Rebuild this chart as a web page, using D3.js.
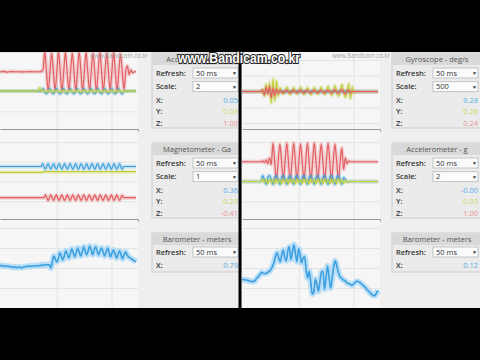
<!DOCTYPE html>
<html>
<head>
<meta charset="utf-8">
<script src="https://cdn.jsdelivr.net/npm/d3@7/dist/d3.min.js"></script>
<style>
html, body { margin: 0; padding: 0; background: #000; }
svg { display: block; font-family: "Open Sans", "Noto Sans", sans-serif; }
</style>
</head>
<body>
<script>
// sensor samples (oldest -> newest)
var accLeftX = [0.02,0.02,0.02,0.02,0.02,0.02,0.02,0.02,0.02,0.02,0.02,0.02,0.02,0.02,0.02,0.02,0.02,0.02,0.02,0.02,0.02,0.02,0.02,0.02,0.02,
	0.15,-0.05,-0.12,0.02, 0.15,-0.05,-0.12,0.02, 0.15,-0.05,-0.12,0.02, 0.15,-0.05,-0.12,0.02,
	0.15,-0.05,-0.12,0.02, 0.15,-0.05,-0.12,0.02, 0.15,-0.05,-0.12,0.02, 0.15,-0.05,-0.12,0.02,
	0.15,-0.05,-0.12,0.02, 0.15,-0.05,-0.12,0.02, 0.15,-0.05,-0.12,0.02, 0.15,-0.05,-0.12,0.02, 0.02,
	0.02,0.02,0.02,0.02,0.02,0.02];
var accLeftY = [0.02,0.02,0.02,0.02,0.02,0.02,0.02,0.02,0.02,0.02,0.02,0.02,0.02,0.02,0.02,0.02,0.02,0.02,0.02,0.02,0.02,0.02,0.02,
	0.2,0.02,
	0.06,0.02,-0.04,0.02, 0.06,0.02,-0.04,0.02, 0.06,0.02,-0.04,0.02, 0.06,0.02,-0.04,0.02,
	0.06,0.02,-0.04,0.02, 0.06,0.02,-0.04,0.02, 0.06,0.02,-0.04,0.02, 0.06,0.02,-0.04,0.02,
	0.06,0.02,-0.04,0.02, 0.06,0.02,-0.04,0.02, 0.06,0.02,-0.04,0.02, 0.06,0.02,-0.04,0.02, 0.02,
	0.02,0.02,0.02,0.02,0.02,0.02];
var accLeftZ = [1,1,1.02,1,0.98,1,1,1.01,1,1,1,1,1,0.99,1,1,1,1,1.01,1,1,1,1,1,1.02,
	1.1,
	2,1,0,1, 1.95,1,0.05,1, 2,1,0,1, 2,1,0.05,1, 1.95,1,0,1, 2,1,0,1,
	2,1,0.05,1, 1.95,1,0,1, 2,1,0,1, 1.95,1,0.05,1, 2,1,0,1,
	1.9,1,0.1,1,
	1.3,0.85,1.1,0.95,1,1];

var gyroX = [0,0,0,0,0,0,0,0,0,0,0,0,
	10,-15,5,-10, 10,-15,5,-10, 10,-15,5,-10, 10,-15,5,-10, 10,-15,5,-10, 10,-15,5,-10, 10,-15,5,-10,
	10,-15,5,-10, 10,-15,5,-10, 10,-15,5,-10, 10,-15,5,-10, 10,-15,5,-10, 10,-15,5,-10,
	0,0,0,0,0,0,0,0,0,0,0,0,0,0,0,0];
var gyroY = [0,0,0,0,0,0,0,0,0,0,5,-10,
	30,-60,90,-40,110,
	-150,160,-120,140,-60,
	50,5,-35,0, 55,10,-40,5, 50,0,-35,0, 55,10,-40,5, 50,5,-45,0,
	50,10,-35,0, 55,0,-40,5, 65,10,-50,0, 75,5,-60,0, 90,10,-75,0,
	100,-90,60,-20,
	0,5,0,-5,0,0,0,0,0,0,0,0,0,0];
var gyroZ = [0,0,0,0,0,0,0,0,0,0,0,0,
	20,-40,50,-30,60,-70,40,-50,30,-20,
	15,-8,-15,5, 15,-8,-15,5, 15,-8,-15,5, 15,-8,-15,5, 15,-8,-15,5,
	15,-8,-15,5, 15,-8,-15,5, 15,-8,-15,5, 20,-10,-20,5, 25,-10,-25,5, 20,-15,
	0,0,0,0,0,0,0,0,0,0,0,0,0,0,0,0];

var magX = [0.38,0.38,0.38,0.38,0.38,0.38,0.38,0.38,0.38,0.38,0.38,0.38,0.38,0.38,0.38,0.38,
	0.38,0.38,0.38,0.38,0.38,0.38,0.38,0.38,0.38,0.38,0.38,0.38,0.38,0.38,0.38,
	0.45,0.38,0.31,0.38, 0.45,0.38,0.31,0.38, 0.45,0.38,0.31,0.38, 0.45,0.38,0.31,0.38, 0.45,0.38,0.31,0.38,
	0.45,0.38,0.31,0.38, 0.45,0.38,0.31,0.38, 0.45,0.38,0.31,0.38, 0.45,0.38,0.31,0.38, 0.45,0.38,0.31,0.38,
	0.45,0.38,0.31,0.38, 0.45,0.38,0.31,0.38, 0.45,0.38,0.31,0.38, 0.45,0.38,0.31,0.38, 0.45,0.38,0.31,0.38,
	0.38,0.38,0.38,0.38,0.38,0.38,0.38,0.38,0.38];
var magY = [0.23,0.23,0.23,0.23,0.23,0.23,0.23,0.23,0.23,0.23,0.23,0.23,0.23,0.23,0.23,0.23,
	0.23,0.23,0.23,0.23,0.23,0.23,0.23,0.23,0.23,0.23,0.23,0.23,0.23,0.23,0.23,
	0.24,0.25,0.25,0.25,
	0.25,0.25,0.25,0.25,0.25,0.25,0.25,0.25,0.25,0.25,0.25,0.25,0.25,0.25,0.25,0.25,0.25,0.25,0.25,0.25,
	0.25,0.25,0.25,0.25,0.25,0.25,0.25,0.25,0.25,0.25,0.25,0.25,0.25,0.25,0.25,0.25,0.25,0.25,0.25,0.25,
	0.25,0.25,0.25,0.25,0.25,0.25,0.25,0.25,0.25,0.25,0.25,0.25,0.25,0.25,0.25,0.25,0.25,0.25,0.25,0.25,
	0.25,0.25,0.25,0.25,0.25];
var magZ = [-0.41,-0.41,-0.41,-0.41,-0.41,-0.41,-0.41,-0.41,-0.41,-0.41,-0.41,-0.41,-0.41,-0.41,-0.41,-0.41,-0.41,
	-0.41,-0.41,-0.41,-0.41,-0.41,-0.41,-0.41,-0.41,-0.41,-0.41,-0.41,-0.41,-0.41,-0.41,-0.41,-0.41,
	-0.34,-0.41,-0.48,-0.41, -0.34,-0.41,-0.48,-0.41, -0.34,-0.41,-0.48,-0.41, -0.34,-0.41,-0.48,-0.41,
	-0.34,-0.41,-0.48,-0.41, -0.34,-0.41,-0.48,-0.41, -0.34,-0.41,-0.48,-0.41, -0.34,-0.41,-0.48,-0.41,
	-0.34,-0.41,-0.48,-0.41, -0.34,-0.41,-0.48,-0.41, -0.34,-0.41,-0.48,-0.41, -0.34,-0.41,-0.48,-0.41,
	-0.34,-0.41,-0.48,-0.41, -0.34,-0.41,-0.48,-0.41, -0.35,-0.41,
	-0.41,-0.41,-0.41,-0.41,-0.41,-0.41,-0.41,-0.41,-0.41];

var accRightX = [0,0,0,0,0,0,0,0,0,0,0,0,
	0.3,0.1,-0.15,0.2, 0.3,0.1,-0.15,0.2, 0.3,0.1,-0.15,0.2, 0.3,0.1,-0.15,0.2, 0.3,0.1,-0.15,0.2, 0.3,0.1,-0.15,0.2,
	0.3,0.1,-0.15,0.2, 0.3,0.1,-0.15,0.2, 0.3,0.1,-0.15,0.2, 0.3,0.1,-0.15,0.2, 0.3,0.1,-0.15,0.2, 0.3,0.1,-0.15,0.2,
	0.1,0,0,
	0,0,0,0,0,0,0,0,0,0,0,0,0,0,0,0,0];
var accRightY = [0,0,0,0,0,0,0,0,0,0,0,0,
	0.12,-0.05,0.08,-0.1, 0.12,-0.05,0.08,-0.1, 0.12,-0.05,0.08,-0.1, 0.12,-0.05,0.08,-0.1, 0.12,-0.05,0.08,-0.1, 0.12,-0.05,0.08,-0.1,
	0.12,-0.05,0.08,-0.1, 0.12,-0.05,0.08,-0.1, 0.12,-0.05,0.08,-0.1, 0.12,-0.05,0.08,-0.1, 0.12,-0.05,0.08,-0.1, 0.12,-0.05,0.08,-0.1,
	0.05,0,-0.03,
	0,0,0,0,0,0,0,0,0,0,0,0,0,0,0,0,0];
var accRightZ = [1,1,1,1,1,1,1,1,1,1,1,1,
	1.05,0.95,1.1,0.9,1.2,0.85,
	1.95,1,0.05,1, 1.9,1,0.05,1, 1.95,1,0,1, 1.95,1,0.05,1, 1.9,1,0.05,1,
	1.95,1,0,1, 1.95,1,0.05,1, 1.9,1,0.05,1, 1.95,1,0,1, 1.9,1,0.1,1,
	1.7,0.6,1.2,0.9,1.05,
	1,1,1,1,1,1,1,1,1,1,1,1,1,1,1,1,1];

var baroLeft = [0.06,0.06,0.05,0.05,0.04,0.05,0.04,0.03,0.03,0.01,0.03,0.01,0.01,0.03,0.01,0.01,0.03,
	0.03,0.04,0.04,0.05,0.04,0.05,0.05,0.06,0.05,0.06,0.06,0.08,0.06,0.08,0.08,0.08,0.08,
	0, 0.15,
	0.30,0.23,0.15,0.23, 0.38,0.30,0.20,0.30, 0.43,0.35,0.25,0.35, 0.48,0.38,0.28,0.38,
	0.50,0.40,0.30,0.40, 0.53,0.43,0.33,0.43, 0.55,0.45,0.33,0.45, 0.53,0.43,0.33,0.43,
	0.50,0.40,0.30,0.40, 0.50,0.38,0.28,0.38, 0.45,0.35,0.25,0.35, 0.43,0.33,0.23,0.33,
	0.40,0.33,0.28,0.25,0.23,0.20,0.18,0.15];
var baroRight = [-0.28,-0.29,-0.30,-0.30,-0.31,-0.33,-0.33,-0.34,-0.33,-0.29,
	-0.24,-0.20,-0.15,-0.11,-0.13,-0.14,-0.13,-0.10,-0.08,-0.03,
	0.04,0.15,0.30,0.38,0.25,0.16,0.33,0.45,0.25,0.18,
	0.43,0.53,0.21,0.40,0.58,0.35,0.16,0.48,0.33,0.13,
	0.25,0.28,-0.05,-0.25,-0.08,-0.35,-0.65,-0.60,-0.28,-0.40,
	-0.58,-0.35,-0.10,-0.08,-0.53,-0.25,0.05,-0.25,-0.50,-0.25,
	0.03,0.18,0.05,-0.10,-0.21,-0.25,-0.29,-0.31,-0.34,-0.38,
	-0.39,-0.41,-0.43,-0.40,-0.36,-0.33,-0.34,-0.36,-0.39,-0.43,
	-0.46,-0.50,-0.55,-0.58,-0.63,-0.66,-0.69,-0.69,-0.63,-0.56];

// panel texts
var panelTitles = ['Accelerometer - g', 'Magnetometer - Ga', 'Barometer - meters',
	'Gyroscope - deg/s', 'Accelerometer - g', 'Barometer - meters'];
var refreshLabels = ['50 ms', '50 ms', '50 ms', '50 ms', '50 ms', '50 ms'];
var scaleLabels = ['2', '1', null, '500', '2', null];
var readouts = [['0.05', '0.03', '1.00'], ['0.36', '0.23', '-0.41'], ['0.79'],
	['0.28', '0.26', '0.24'], ['-0.00', '0.03', '1.00'], ['0.12']];
var axisNames = ['X:', 'Y:', 'Z:'];
var gridSeconds = [2, 4];
var windowSeconds = [0, 5];

var colors = { x: '#3b9fe0', y: '#c3d13f', z: '#e35d61' };
var readoutColors = ['#55aee8', '#cfd65a', '#e8939a'];

var halves = [{ x0: 0, panelX: 152 }, { x0: 242, panelX: 392 }];
var rowTops = [40, 130, 220];
var plotW = 138, rowH = 90;

var charts = [
	{ half: 0, row: 0, domain: [-2, 2], series: [[accLeftZ, 'z'], [accLeftX, 'x'], [accLeftY, 'y']] },
	{ half: 0, row: 1, domain: [-1, 1], series: [[magZ, 'z'], [magY, 'y'], [magX, 'x']] },
	{ half: 0, row: 2, domain: [-1, 1], baro: true, series: [[baroLeft, 'x']] },
	{ half: 1, row: 0, domain: [-500, 500], series: [[gyroX, 'x'], [gyroY, 'y'], [gyroZ, 'z']] },
	{ half: 1, row: 1, domain: [-2, 2], series: [[accRightZ, 'z'], [accRightX, 'x'], [accRightY, 'y']] },
	{ half: 1, row: 2, domain: [-1, 1], baro: true, series: [[baroRight, 'x']] }
];

var svg = d3.select('body').append('svg').attr('width', 480).attr('height', 360);
svg.append('rect').attr('width', 480).attr('height', 360).attr('fill', '#000');
svg.append('defs').append('clipPath').attr('id', 'view')
	.append('rect').attr('x', 0).attr('y', 52).attr('width', 480).attr('height', 256);

var content = svg.append('g').attr('clip-path', 'url(#view)');
content.append('rect').attr('x', 0).attr('y', 40).attr('width', 480).attr('height', 280).attr('fill', '#efefef');

charts.forEach(function(c, k) {
	var x0 = halves[c.half].x0;
	var px = halves[c.half].panelX;
	var top = rowTops[c.row];
	var g = content.append('g');

	g.append('rect').attr('x', x0).attr('y', top).attr('width', plotW).attr('height', rowH).attr('fill', '#f6f6f6');

	var x = d3.scaleLinear().domain(windowSeconds).range([x0 + 2, x0 + plotW + 1]);
	var y = c.baro
		? d3.scaleLinear().domain(c.domain).range([top + 88, top + 8])
		: d3.scaleLinear().domain(c.domain).range([top + 91, top + 12]);

	// grid
	var gx = g.append('g').attr('transform', `translate(0,${top + rowH})`)
		.call(d3.axisBottom(x).tickValues(gridSeconds).tickSize(-rowH).tickFormat(''));
	var gy = g.append('g').attr('transform', `translate(${x0},0)`)
		.call(d3.axisLeft(y).ticks(4).tickSize(-plotW).tickFormat(''));
	[gx, gy].forEach(function(a) {
		a.select('.domain').remove();
		a.selectAll('line').attr('stroke', '#dddddd').attr('stroke-width', 0.7);
	});

	// series
	c.series.forEach(function(s) {
		var values = s[0], col = colors[s[1]];
		var sx = d3.scaleLinear().domain([0, values.length - 1]).range([x0, x0 + plotW - 2]);
		var line = d3.line().x(function(d, i) { return sx(i); }).y(function(d) { return y(d); })
			.curve(d3.curveMonotoneX);
		g.append('path').datum(values).attr('d', line).attr('fill', 'none')
			.attr('stroke', c.baro ? '#b3dbf6' : col).attr('stroke-opacity', c.baro ? 0.9 : 0.25)
			.attr('stroke-width', c.baro ? 6 : 4).attr('stroke-linejoin', 'round');
		g.append('path').datum(values).attr('d', line).attr('fill', 'none')
			.attr('stroke', col).attr('stroke-width', c.baro ? 1.6 : 1.2).attr('stroke-linejoin', 'round');
	});

	// dark bottom rule
	var base = d3.scaleLinear().range([x0, x0 + plotW]);
	g.append('g').attr('transform', `translate(0,${top + rowH})`)
		.call(d3.axisBottom(base).ticks(0).tickSizeOuter(0))
		.select('.domain').attr('stroke', '#3a3a3a').attr('stroke-width', 2);

	// faint recorder mark in the top plots
	if (c.row === 0) {
		g.append('text').attr('x', x0 + 90).attr('y', top + 18).attr('font-size', 6.5)
			.attr('textLength', 58).attr('lengthAdjust', 'spacingAndGlyphs')
			.attr('fill', '#9a9a9a').attr('opacity', 0.9)
			.text('www.Bandicam.co.kr');
	}

	// control panel
	var p = g.append('g');
	var ph = c.baro ? 39 : 75;
	p.append('rect').attr('x', px).attr('y', top + 13).attr('width', 90).attr('height', ph)
		.attr('fill', '#ebebeb').attr('stroke', '#cdcdcd');
	p.append('rect').attr('x', px + 0.5).attr('y', top + 13.5).attr('width', 89).attr('height', 11.5).attr('fill', '#d9d9d9');
	p.append('text').attr('x', px + 45).attr('y', top + 22).attr('text-anchor', 'middle')
		.attr('font-size', 7.5).attr('fill', '#555').text(panelTitles[k]);

	var rows = [['Refresh:', refreshLabels[k]]];
	if (scaleLabels[k] !== null) rows.push(['Scale:', scaleLabels[k]]);
	rows.forEach(function(r, i) {
		var cy = top + (c.baro ? 32 : 33) + i * 13.7;
		p.append('text').attr('x', px + 4).attr('y', cy + 2.6).attr('font-size', 7.5)
			.attr('font-weight', 600).attr('fill', '#333').text(r[0]);
		p.append('rect').attr('x', px + 41).attr('y', cy - 5).attr('width', 45).attr('height', 10)
			.attr('fill', '#fbfbfb').attr('stroke', '#b8b8b8').attr('stroke-width', 0.8);
		p.append('text').attr('x', px + 44).attr('y', cy + 2.6).attr('font-size', 7.5).attr('fill', '#333').text(r[1]);
		p.append('text').attr('x', px + 80).attr('y', cy + 2).attr('font-size', 5).attr('fill', '#333').text('\u25BC');
	});

	readouts[k].forEach(function(v, i) {
		var cy = top + (c.baro ? 45 : 60) + i * 11.7;
		p.append('text').attr('x', px + 4).attr('y', cy + 2.6).attr('font-size', 7.5)
			.attr('font-weight', 600).attr('fill', '#333').text(axisNames[i]);
		p.append('text').attr('x', px + 86).attr('y', cy + 2.6).attr('text-anchor', 'end')
			.attr('font-size', 7.5).attr('fill', readoutColors[i]).text(v);
	});
});

// divider between the two windows
svg.append('rect').attr('x', 238.5).attr('y', 0).attr('width', 3).attr('height', 360).attr('fill', '#000');

// recorder watermark
svg.append('text').attr('x', 239).attr('y', 63).attr('text-anchor', 'middle')
	.attr('font-family', '"Liberation Sans", Arial, sans-serif').attr('font-weight', 'bold')
	.attr('font-size', 15).attr('textLength', 122).attr('lengthAdjust', 'spacingAndGlyphs')
	.attr('fill', '#fff').attr('stroke', '#222').attr('stroke-width', 2.2).attr('paint-order', 'stroke')
	.text('www.Bandicam.co.kr');
</script>
</body>
</html>
